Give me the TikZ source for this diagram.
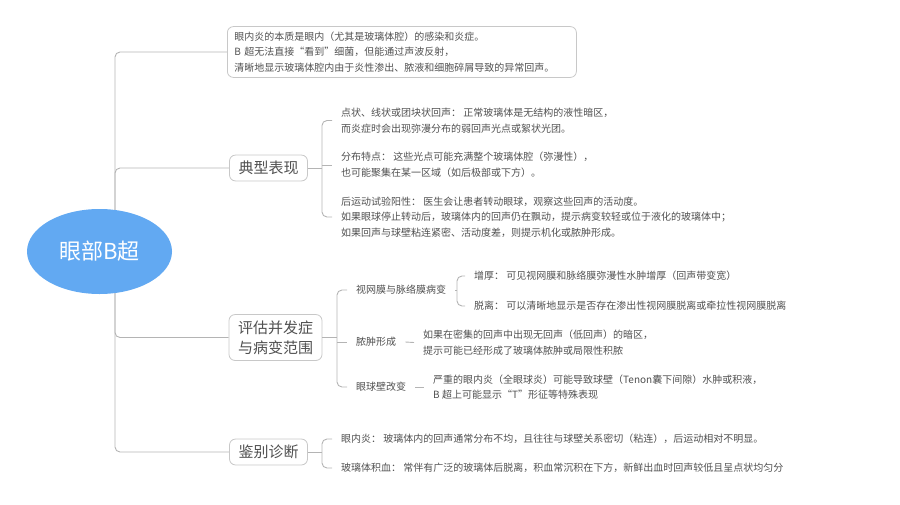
\documentclass[tikz,border=0pt]{standalone}
\usepackage{fontspec}
\setmainfont{Noto Sans CJK SC}
\usepackage{tikz}
\usetikzlibrary{backgrounds,shapes.geometric}

\definecolor{rootblue}{HTML}{62A9F2}
\definecolor{linegray}{HTML}{B4B4B4}
\definecolor{boxgray}{HTML}{C8C8C8}
\definecolor{textgray}{HTML}{505050}

\tikzset{
  link/.style={draw=linegray, line width=0.9pt, rounded corners=5pt},
  topic/.style={draw=boxgray, line width=0.8pt, rounded corners=6pt, fill=white,
    text=textgray, align=center, font=\fontsize{15}{20}\selectfont,
    inner xsep=9pt, inner ysep=6pt},
  leaf/.style={anchor=west, inner xsep=9pt, inner ysep=0pt, align=left,
    text=textgray, font=\fontsize{10}{15.7}\selectfont},
}

\begin{document}
\begin{tikzpicture}[x=1pt, y=-1pt]
\useasboundingbox (0,0) rectangle (900,504);

% Centro
\node[ellipse, fill=rootblue, minimum width=145pt, minimum height=85pt,
  text=white, font=\fontsize{22}{24}\selectfont] (root) at (99.5,251.5) {眼部B超};
\coordinate (trunk) at (115,251.5);

% Resumen
\node[leaf, draw=boxgray, line width=0.8pt, rounded corners=6pt, inner xsep=7pt,
  inner ysep=5pt, text width=335pt] (intro) at (227,52)
  {眼内炎的本质是眼内（尤其是玻璃体腔）的感染和炎症。\\
   B 超无法直接“看到”细菌，但能通过声波反射，\\
   清晰地显示玻璃体腔内由于炎性渗出、脓液和细胞碎屑导致的异常回声。};

%典型表现
\node[topic] (typ) at (268.5,168) {典型表现};
\node[leaf] (typa) at (332,120.5)
  {点状、线状或团块状回声： 正常玻璃体是无结构的液性暗区，\\
   而炎症时会出现弥漫分布的弱回声光点或絮状光团。};
\node[leaf] (typb) at (332,165)
  {分布特点： 这些光点可能充满整个玻璃体腔（弥漫性），\\
   也可能聚集在某一区域（如后极部或下方）。};
\node[leaf] (typc) at (332,217)
  {后运动试验阳性： 医生会让患者转动眼球，观察这些回声的活动度。\\
   如果眼球停止转动后，玻璃体内的回声仍在飘动，提示病变较轻或位于液化的玻璃体中；\\
   如果回声与球壁粘连紧密、活动度差，则提示机化或脓肿形成。};

% 评估并发症
\node[topic] (eva) at (275.5,337.5) {评估并发症\\与病变范围};
\node[leaf] (ret) at (347,290) {视网膜与脉络膜病变};
\node[leaf] (reta) at (465,276) {增厚： 可见视网膜和脉络膜弥漫性水肿增厚（回声带变宽）};
\node[leaf] (retb) at (465,306) {脱离： 可以清晰地显示是否存在渗出性视网膜脱离或牵拉性视网膜脱离};
\node[leaf] (abs) at (347,342) {脓肿形成};
\node[leaf] (absa) at (414,342.5)
  {如果在密集的回声中出现无回声（低回声）的暗区，\\
   提示可能已经形成了玻璃体脓肿或局限性积脓};
\node[leaf] (wal) at (347,387) {眼球壁改变};
\node[leaf] (wala) at (424,387)
  {严重的眼内炎（全眼球炎）可能导致球壁（Tenon囊下间隙）水肿或积液，\\
   B 超上可能显示“T”形征等特殊表现};

% 鉴别诊断
\node[topic] (dif) at (268.5,452) {鉴别诊断};
\node[leaf] (difa) at (332,439)
  {眼内炎： 玻璃体内的回声通常分布不均，且往往与球壁关系密切（粘连），后运动相对不明显。};
\node[leaf] (difb) at (332,468)
  {玻璃体积血： 常伴有广泛的玻璃体后脱离，积血常沉积在下方，新鲜出血时回声较低且呈点状均匀分};

% Conectores
\begin{scope}[on background layer]
\draw[link] (trunk) |- (intro.west);
\draw[link] (trunk) |- (typ.west);
\draw[link] (trunk) |- (eva.west);
\draw[link] (trunk) |- (dif.west);
\end{scope}

\draw[link] (typa.west) -- ++(-10,0) |- (typc.west);
\draw[link] (typ.east) -- ([xshift=-10pt]typ.east -| typb.west);
\draw[link] ([xshift=-10pt]typb.west) -- (typb.west);

\draw[link] (ret.west) -- ++(-10,0) |- (wal.west);
\draw[link] (eva.east) -- ([xshift=-10pt]eva.east -| abs.west);
\draw[link] ([xshift=-10pt]abs.west) -- (abs.west);

\draw[link] (reta.west) -- ++(-8,0) |- (retb.west);
\draw[link] (ret.east) -- ([xshift=-8pt]ret.east -| reta.west);

\draw[link] (abs.east) -- (absa.west);
\draw[link] (wal.east) -- (wala.west);

\draw[link] (difa.west) -- ++(-10,0) |- (difb.west);
\draw[link] (dif.east) -- ([xshift=-10pt]dif.east -| difa.west);

\end{tikzpicture}
\end{document}
